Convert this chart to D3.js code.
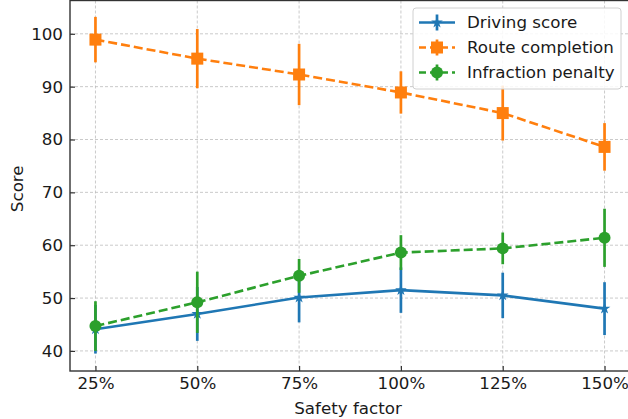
<!DOCTYPE html>
<html>
<head>
<meta charset="utf-8">
<script src="https://d3js.org/d3.v7.min.js"></script>
<style>
  body { margin: 0; background: #fff; }
  text { font-family: "DejaVu Sans", sans-serif; fill: #1a1a1a; }
</style>
</head>
<body>
<svg id="chart" width="628" height="419"></svg>
<script>
// values
const factors = ["25%", "50%", "75%", "100%", "125%", "150%"];
const drivingScore = [44.1, 47.0, 50.1, 51.5, 50.5, 48.0];
const drivingErr   = [4.6, 5.1, 4.7, 4.3, 4.3, 5.0];
const routeCompletion = [98.9, 95.3, 92.3, 88.9, 85.0, 78.6];
const routeErr        = [4.3, 5.6, 5.8, 4.0, 5.2, 4.5];
const infractionPenalty = [44.7, 49.2, 54.2, 58.6, 59.4, 61.4];
const infractionErr     = [4.7, 5.8, 3.2, 3.3, 3.0, 5.5];
const yTicks = [40, 50, 60, 70, 80, 90, 100];

const series = [
  {name: "Driving score", values: drivingScore, err: drivingErr, color: "#1f77b4", dash: null, marker: "star"},
  {name: "Route completion", values: routeCompletion, err: routeErr, color: "#ff7f0e", dash: "9,4", marker: "square"},
  {name: "Infraction penalty", values: infractionPenalty, err: infractionErr, color: "#2ca02c", dash: "9,4", marker: "circle"}
];

const fs = 16.7;
const mLeft = 70, mRight = 630, mTop = 0.5, mBottom = 371;
const svg = d3.select("#chart");

const x = d3.scaleLinear().domain([-0.25, factors.length - 0.75]).range([mLeft, mRight]);
const y = d3.scaleLinear().domain([36.2, 106.3]).range([mBottom, mTop]);

// grid
const grid = svg.append("g").attr("stroke", "#bdbdbd").attr("stroke-width", 0.8).attr("stroke-dasharray", "3,2");
grid.selectAll(".gx").data(factors).enter().append("line")
  .attr("x1", (d, i) => x(i)).attr("x2", (d, i) => x(i))
  .attr("y1", mTop).attr("y2", mBottom);
grid.selectAll(".gy").data(yTicks).enter().append("line")
  .attr("x1", mLeft).attr("x2", mRight)
  .attr("y1", d => y(d)).attr("y2", d => y(d));

// axes with inward ticks
const xAxis = svg.append("g").attr("transform", `translate(0,${mBottom})`)
  .call(d3.axisBottom(x).tickValues(d3.range(factors.length)).tickFormat(i => factors[i]).tickSizeInner(-5).tickSizeOuter(0).tickPadding(8));
const yAxis = svg.append("g").attr("transform", `translate(${mLeft},0)`)
  .call(d3.axisLeft(y).tickValues(yTicks).tickSizeInner(-5).tickSizeOuter(0).tickPadding(7));
[xAxis, yAxis].forEach(a => {
  a.select(".domain").remove();
  a.selectAll(".tick line").attr("stroke", "#333").attr("stroke-width", 1.2);
  a.selectAll(".tick text").attr("font-size", fs).attr("fill", "#1a1a1a").attr("font-family", "DejaVu Sans");
});
xAxis.selectAll(".tick text").attr("dy", "0.6em");

// frame
svg.append("rect").attr("x", mLeft).attr("y", mTop).attr("width", mRight - mLeft).attr("height", mBottom - mTop)
  .attr("fill", "none").attr("stroke", "#333").attr("stroke-width", 1.4);

function drawMarker(g, type, cx, cy, color) {
  if (type === "square") {
    g.append("rect").attr("x", cx - 6).attr("y", cy - 6).attr("width", 12).attr("height", 12).attr("fill", color);
  } else if (type === "circle") {
    g.append("circle").attr("cx", cx).attr("cy", cy).attr("r", 6).attr("fill", color);
  } else {
    g.append("path").attr("d", d3.symbol().type(d3.symbolStar).size(42)())
      .attr("transform", `translate(${cx},${cy})`).attr("fill", color);
  }
}

const plot = svg.append("g");
series.forEach(s => {
  const g = plot.append("g");
  g.selectAll(".err").data(s.values).enter().append("line")
    .attr("x1", (d, i) => x(i)).attr("x2", (d, i) => x(i))
    .attr("y1", (d, i) => y(d - s.err[i])).attr("y2", (d, i) => y(d + s.err[i]))
    .attr("stroke", s.color).attr("stroke-width", 2.7);
  g.append("path").datum(s.values)
    .attr("d", d3.line().x((d, i) => x(i)).y(d => y(d)))
    .attr("fill", "none").attr("stroke", s.color).attr("stroke-width", 2.6)
    .attr("stroke-dasharray", s.dash);
  s.values.forEach((d, i) => drawMarker(g, s.marker, x(i), y(d), s.color));
});

// axis titles
svg.append("text").attr("x", (mLeft + mRight) / 2 - 2).attr("y", 414).attr("text-anchor", "middle")
  .attr("font-size", fs).text("Safety factor");
svg.append("text").attr("transform", `translate(23,${(mTop + mBottom) / 2 + 3}) rotate(-90)`)
  .attr("text-anchor", "middle").attr("font-size", fs).text("Score");

// legend
const lg = svg.append("g");
lg.append("rect").attr("x", 413).attr("y", 8).attr("width", 208).attr("height", 81).attr("rx", 3)
  .attr("fill", "#fff").attr("fill-opacity", 0.85).attr("stroke", "#d0d0d0").attr("stroke-width", 1);
series.forEach((s, i) => {
  const cy = 22.5 + i * 25;
  lg.append("line").attr("x1", 419).attr("x2", 455).attr("y1", cy).attr("y2", cy)
    .attr("stroke", s.color).attr("stroke-width", 2.6).attr("stroke-dasharray", s.dash ? "7,4" : null);
  lg.append("line").attr("x1", 437).attr("x2", 437).attr("y1", cy - 8).attr("y2", cy + 8)
    .attr("stroke", s.color).attr("stroke-width", 2.7);
  drawMarker(lg, s.marker, 437, cy, s.color);
  lg.append("text").attr("x", 467).attr("y", cy).attr("dy", "0.35em").attr("font-size", fs).text(s.name);
});
</script>
</body>
</html>
